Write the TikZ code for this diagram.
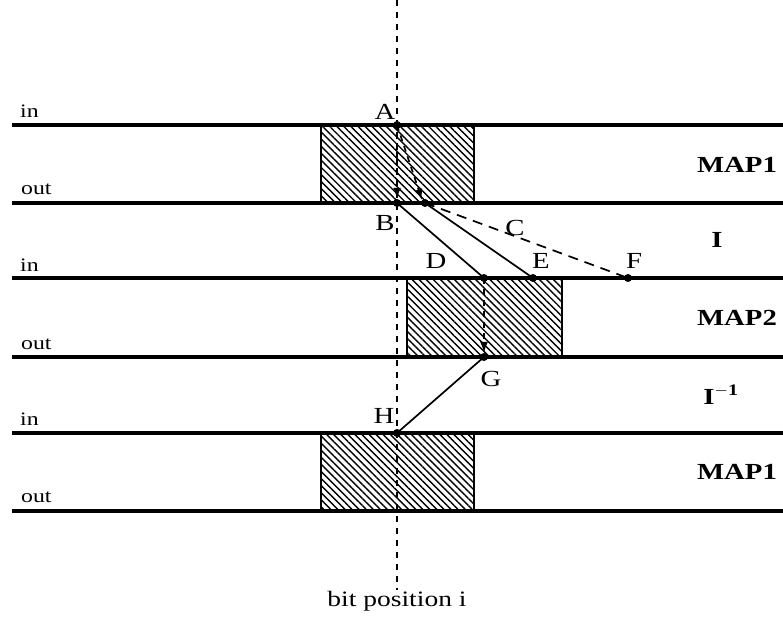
\documentclass[tikz,border=0pt]{standalone}
\usepackage{fontspec}
\setmainfont[FakeStretch=1.25]{Liberation Serif}
\usetikzlibrary{patterns.meta,arrows.meta}
\tikzset{
  track/.style={line width=3.2pt},
  box/.style={draw,line width=1.5pt,pattern={Lines[angle=-45,distance=5pt,line width=1.4pt]}},
  pt/.style={circle,fill,inner sep=0pt,minimum size=8pt},
  conn/.style={line width=1.7pt},
  dconn/.style={line width=1.7pt,dash pattern=on 10pt off 7pt},
  arr/.style={-{Latex[length=11pt,width=8pt]}},
  lab/.style={font=\fontsize{23}{25}\selectfont,inner sep=0pt},
  io/.style={font=\fontsize{19}{21}\selectfont,inner sep=0pt,anchor=west},
  stage/.style={font=\fontsize{23}{25}\selectfont\bfseries,inner sep=0pt},
}
\begin{document}
\begin{tikzpicture}[x=1pt,y=-1pt]
\useasboundingbox (0,0) rectangle (783,617);
% hatched boxes
\path[box] (321,125) rectangle (474,203);
\path[box] (407,278) rectangle (562,357);
\path[box] (321,433) rectangle (474,511);
% tracks
\foreach \y in {125,203,278,357,433,511}
  \draw[track] (12,\y) -- (783,\y);
% bit position line
\coordinate (top) at (397,0);
\coordinate (bot) at (397,590);
\draw[line width=1.3pt,dash pattern=on 6pt off 6pt] (top) -- (bot);
\node[font=\fontsize{22}{24}\selectfont,inner sep=0pt] (bp) at (397,601) {bit position i};
% points
\node[pt] (A) at (397,125) {};
\node[pt] (B) at (397,203) {};
\node[pt] (P) at (425,203) {};
\node[pt] (D) at (484,278) {};
\node[pt] (E) at (533,278) {};
\node[pt] (F) at (628,278) {};
\node[pt] (G) at (484,357) {};
\node[pt] (H) at (397,433) {};
% connectors
\draw[conn,arr,dash pattern=on 5pt off 4pt] (A.center) -- (B.north);
\draw[dconn,arr,dash pattern=on 6pt off 5pt] (A.center) -- (P.north west);
\draw[conn] (B.center) -- (D.center);
\draw[conn] (P.center) -- (E.center);
\draw[dconn] (P.center) -- (F.center);
\draw[conn,arr,dash pattern=on 6pt off 5pt] (D.center) -- (G.north);
\draw[conn] (G.center) -- (H.center);
% point labels
\node[lab] (lA) at (385,112) {A};
\node[lab] (lB) at (385,223) {B};
\node[lab] (lC) at (515,228) {C};
\node[lab] (lD) at (436,261) {D};
\node[lab] (lE) at (541,261) {E};
\node[lab] (lF) at (634,261) {F};
\node[lab] (lG) at (491,379) {G};
\node[lab] (lH) at (384,416) {H};
% in/out labels
\node[io] (i1) at (20,111) {in};
\node[io] (o1) at (21,189) {out};
\node[io] (i2) at (20,265) {in};
\node[io] (o2) at (21,344) {out};
\node[io] (i3) at (20,419) {in};
\node[io] (o3) at (21,497) {out};
% stage labels
\node[stage] (m1) at (737,165) {MAP1};
\node[stage] (s1) at (717,240) {I};
\node[stage] (m2) at (737,318) {MAP2};
\node[stage] (s2) at (720,395) {I$^{\mathbf{-1}}$};
\node[stage] (m3) at (737,472) {MAP1};
\end{tikzpicture}
\end{document}
